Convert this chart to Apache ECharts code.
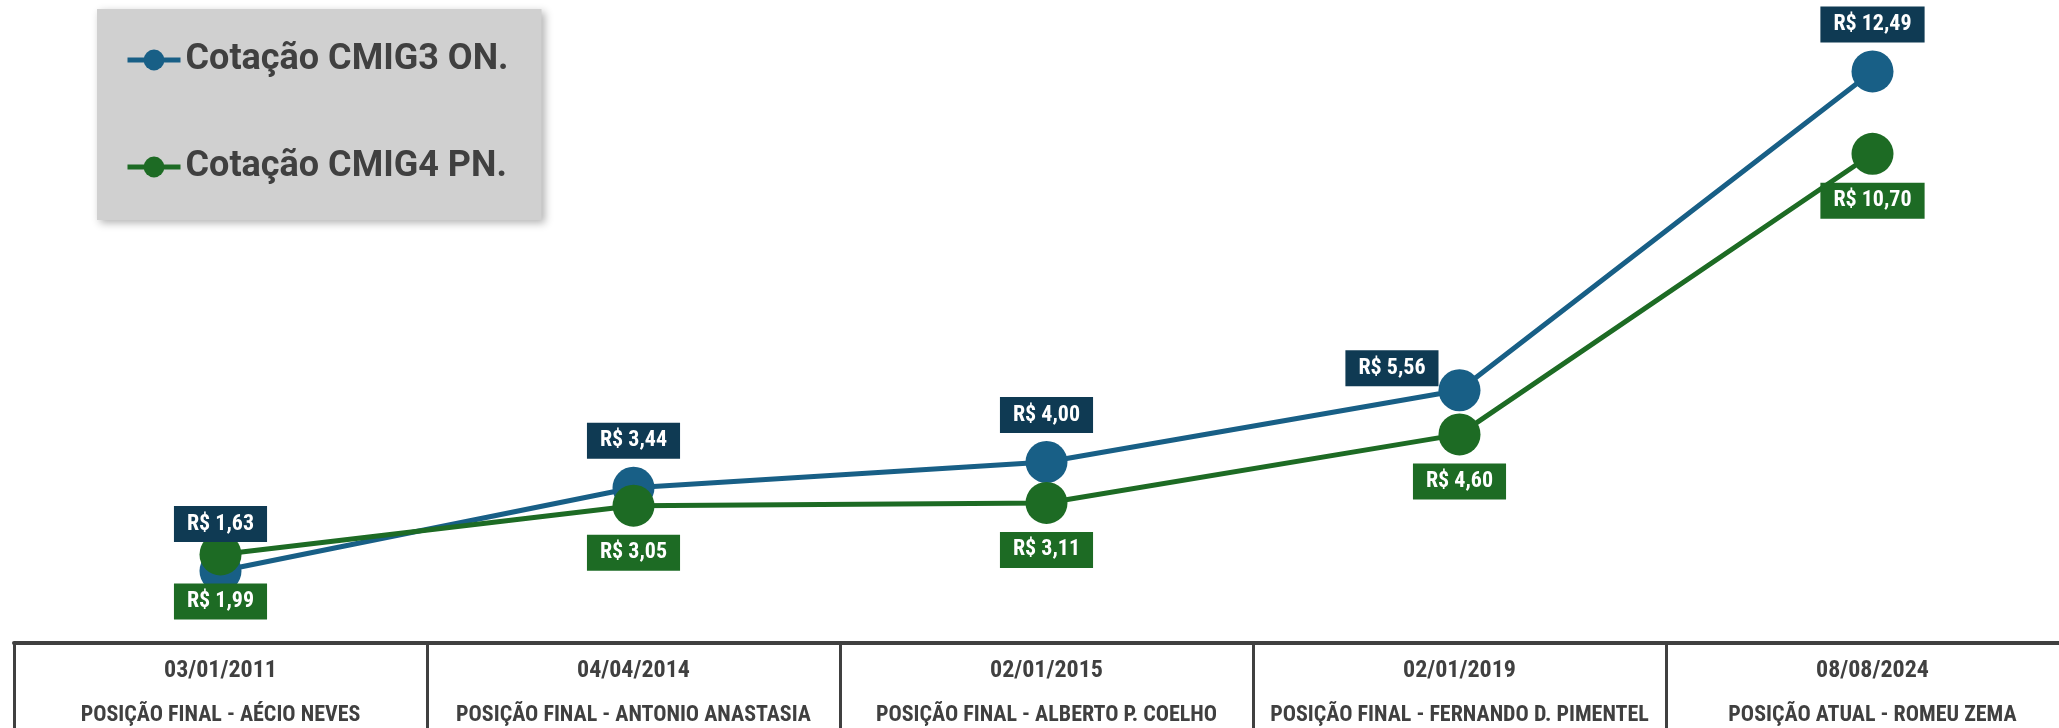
<!DOCTYPE html>
<html>
<head>
<meta charset="utf-8">
<script src="https://cdn.jsdelivr.net/npm/echarts@6/dist/echarts.min.js"></script>
<style>
html,body{margin:0;padding:0;background:#ffffff;overflow:hidden;}
#chart{width:2079px;height:728px;}
</style>
</head>
<body>
<div id="chart"></div>
<script>
const dates = ['03/01/2011', '04/04/2014', '02/01/2015', '02/01/2019', '08/08/2024'];
const positions = ['POSIÇÃO FINAL - AÉCIO NEVES', 'POSIÇÃO FINAL - ANTONIO ANASTASIA', 'POSIÇÃO FINAL - ALBERTO P. COELHO', 'POSIÇÃO FINAL - FERNANDO D. PIMENTEL', 'POSIÇÃO ATUAL - ROMEU ZEMA'];
const seriesNames = ['Cotação CMIG3 ON.', 'Cotação CMIG4 PN.'];
const cmig3 = [1.63, 3.44, 4.00, 5.56, 12.49];
const cmig4 = [1.99, 3.05, 3.11, 4.60, 10.70];

const BLUE = '#185f86';
const NAVY = '#0f3a53';
const GREEN = '#1d6b24';
const LABEL_FONT = '"Liberation Sans Narrow", "Roboto Condensed", "DejaVu Sans Condensed", sans-serif';

const categories = dates.map((d, i) => d + '\n' + positions[i]);
const fmt = p => 'R$ ' + p.value.toFixed(2).replace('.', ',');

function labelStyle(bg) {
  return {
    show: true,
    formatter: fmt,
    color: '#ffffff',
    fontFamily: LABEL_FONT,
    fontWeight: 'bold',
    fontSize: 22,
    lineHeight: 22,
    backgroundColor: bg,
    padding: [7, 13, 7, 13],
    distance: 8
  };
}

const blueData = cmig3.map((v, i) => {
  if (i === 3) {
    return { value: v, label: { position: 'left', distance: 0, offset: [0, -22] } };
  }
  return v;
});

const chart = echarts.init(document.getElementById('chart'), null, { renderer: 'canvas' });
chart.setOption({
  animation: false,
  backgroundColor: '#ffffff',
  grid: { left: 14, top: 2, right: 0, bottom: 82, containLabel: false },
  legend: {
    orient: 'vertical',
    left: 97,
    top: 9,
    padding: [33, 33, 35, 28],
    backgroundColor: '#d0d0d0',
    shadowBlur: 8,
    shadowColor: 'rgba(0,0,0,0.3)',
    shadowOffsetX: 3,
    shadowOffsetY: 3,
    itemWidth: 53,
    itemHeight: 26,
    itemGap: 71,
    lineStyle: { width: 5 },
    textStyle: { fontFamily: 'Roboto, sans-serif', fontWeight: 'bold', fontSize: 36, lineHeight: 36, color: '#404040' },
    data: seriesNames
  },
  xAxis: {
    type: 'category',
    data: categories,
    boundaryGap: true,
    offset: -3,
    axisLine: { show: true, lineStyle: { color: '#404040', width: 4 } },
    axisTick: { show: true, interval: 0, length: 95, lineStyle: { color: '#404040', width: 3 } },
    axisLabel: {
      interval: 0,
      margin: 5,
      formatter: (val) => {
        const parts = val.split('\n');
        return '{d|' + parts[0] + '}\n{n|' + parts[1] + '}';
      },
      rich: {
        d: { fontFamily: LABEL_FONT, fontWeight: 'bold', fontSize: 24, lineHeight: 45, color: '#404040' },
        n: { fontFamily: LABEL_FONT, fontWeight: 'bold', fontSize: 22, lineHeight: 45, color: '#404040' }
      }
    },
    splitLine: { show: false }
  },
  yAxis: {
    type: 'value',
    min: 0,
    max: 14,
    show: false,
    splitLine: { show: false }
  },
  series: [
    {
      name: seriesNames[0],
      type: 'line',
      data: blueData,
      symbol: 'circle',
      symbolSize: 42,
      showAllSymbol: true,
      lineStyle: { color: BLUE, width: 5 },
      itemStyle: { color: BLUE },
      label: Object.assign(labelStyle(NAVY), { position: 'top' })
    },
    {
      name: seriesNames[1],
      type: 'line',
      data: cmig4,
      symbol: 'circle',
      symbolSize: 42,
      showAllSymbol: true,
      lineStyle: { color: GREEN, width: 5 },
      itemStyle: { color: GREEN },
      label: Object.assign(labelStyle(GREEN), { position: 'bottom' })
    }
  ]
});
</script>
</body>
</html>
